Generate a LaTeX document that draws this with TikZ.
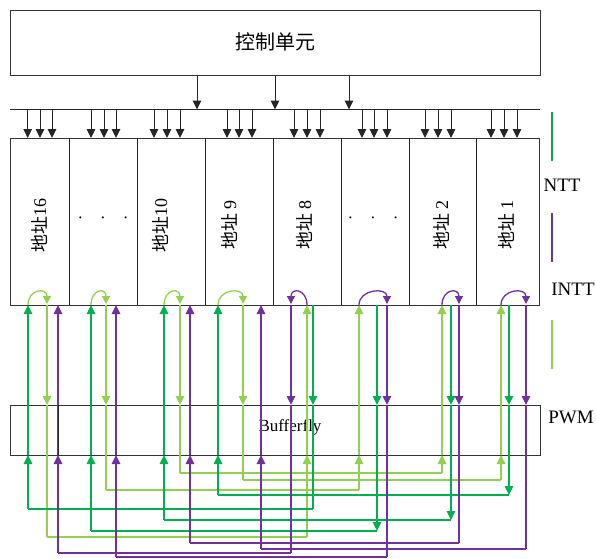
\documentclass[tikz,border=0pt]{standalone}
\usepackage{fontspec}
\setmainfont{Liberation Serif}
\newfontfamily\cjk{Noto Sans CJK SC}
\usetikzlibrary{arrows.meta}
\definecolor{dg}{HTML}{00B050}
\definecolor{lg}{HTML}{92D050}
\definecolor{pu}{HTML}{7030A0}
\begin{document}
\begin{tikzpicture}[x=1pt,y=-1pt,
  box/.style={draw=black!80, line width=1pt, inner sep=0pt},
  blk/.style={draw=black!85, line width=1pt},
  wire/.style={line width=1.3pt},
  tip/.style={-{Triangle[width=8.5pt,length=9pt]}},
  ctip/.style={-{Triangle[width=8pt,length=8pt]}},
  lab/.style={rotate=90, font=\fontsize{18}{18}\selectfont, inner sep=0pt},
  side/.style={font=\fontsize{19}{19}\selectfont, inner sep=0pt}]
\useasboundingbox (0,0) rectangle (596,558);
% boxes
\node[box, minimum width=530pt, minimum height=65pt, anchor=north west] (ctrl) at (10,10) {};
\node[font=\cjk\fontsize{20}{20}\selectfont, inner sep=0pt] (ctrltxt) at (275,42) {控制单元};
\node[box, minimum width=529pt, minimum height=167pt, anchor=north west] (mem) at (10,138) {};
\foreach \x in {69,137,205,273,341,409,476} \draw[blk] (\x,138) -- (\x,305);
\node[box, minimum width=530pt, minimum height=50pt, anchor=north west] (bf) at (10,405) {};
\node[font=\fontsize{17}{17}\selectfont, inner sep=0pt] (bftxt) at (290,427) {Bufferfly};
% labels
\node[lab] (a16) at (39,225) {{\cjk 地址}16};
\node[lab] (a10) at (160,225) {{\cjk 地址}10};
\node[lab] (a9) at (229,225) {{\cjk 地址} 9};
\node[lab] (a8) at (304,225) {{\cjk 地址} 8};
\node[lab] (a2) at (441,225) {{\cjk 地址} 2};
\node[lab] (a1) at (506,225) {{\cjk 地址} 1};
\node[font=\fontsize{17}{17}\selectfont, inner sep=0pt] (d1) at (103,220) {\textperiodcentered\hspace{17pt}\textperiodcentered\hspace{17pt}\textperiodcentered};
\node[font=\fontsize{17}{17}\selectfont, inner sep=0pt] (d2) at (373,220) {\textperiodcentered\hspace{17pt}\textperiodcentered\hspace{17pt}\textperiodcentered};
% bus
\coordinate (busL) at (10,109.5);
\coordinate (busR) at (540,109.5);
\draw[blk] (busL) -- (busR);
\foreach \x in {197,275,349} \draw[blk,tip] (\x,75) -- (\x,109.5);
\foreach \x in {27.7,40,52,91,104,116,154,167,180,227,239,252,294,307,320,362,374,387,425,438,451,491,504,517}
  \draw[blk,tip] (\x,109.5) -- (\x,138);
% light green
\foreach \l/\r/\y in {47/307/537, 106/359/490, 180/442/473, 243/501/480}{
  \draw[wire,lg] (\l,\y) -- (\r,\y);
  \draw[wire,lg,tip] (\l,305) -- (\l,405);
  \draw[wire,lg] (\l,405) -- (\l,\y);
  \draw[wire,lg,tip] (\r,\y) -- (\r,455);
  \draw[wire,lg,tip] (\r,455) -- (\r,305);
}
% green
\foreach \l/\r/\y in {28/313/509, 91/377/531, 164/451/520, 218/509/495}{
  \draw[wire,dg] (\l,\y) -- (\r,\y);
  \draw[wire,dg,tip] (\l,\y) -- (\l,455);
  \draw[wire,dg,tip] (\l,455) -- (\l,305);
  \draw[wire,dg,tip] (\r,305) -- (\r,405);
}
\draw[wire,dg] (313,405) -- (313,509);
\foreach \r/\y in {377/531, 451/520, 509/495}
  \draw[wire,dg,tip] (\r,405) -- (\r,\y);
% purple
\foreach \l/\r/\y in {58/291/553, 116/387/557, 190/459/543, 261/526/549}{
  \draw[wire,pu] (\l,\y) -- (\r,\y);
  \draw[wire,pu,tip] (\l,\y) -- (\l,455);
  \draw[wire,pu,tip] (\l,455) -- (\l,305);
  \draw[wire,pu,tip] (\r,305) -- (\r,405);
  \draw[wire,pu] (\r,405) -- (\r,\y);
}
% curves
\foreach \a/\b in {28/47, 91/106, 164/180, 218/243}
  \draw[wire,lg,ctip] (\a,305) .. controls (\a,289) and (\b,287) .. (\b,304);
\foreach \a/\b in {307/291, 359/387, 442/459, 501/526}
  \draw[wire,pu,ctip] (\a,305) .. controls (\a,289) and (\b,287) .. (\b,304);
% divider in butterfly box
\draw[blk] (58,405) -- (58,455);
% legend
\draw[wire,dg] (552,112) -- (552,161);
\draw[wire,pu] (552,213) -- (552,262);
\draw[wire,lg] (552,320) -- (552,369);
\node[side] (ntt) at (562,185) {NTT};
\node[side] (intt) at (573,289) {INTT};
\node[side] (pwm) at (571,417) {PWM};
\end{tikzpicture}
\end{document}
